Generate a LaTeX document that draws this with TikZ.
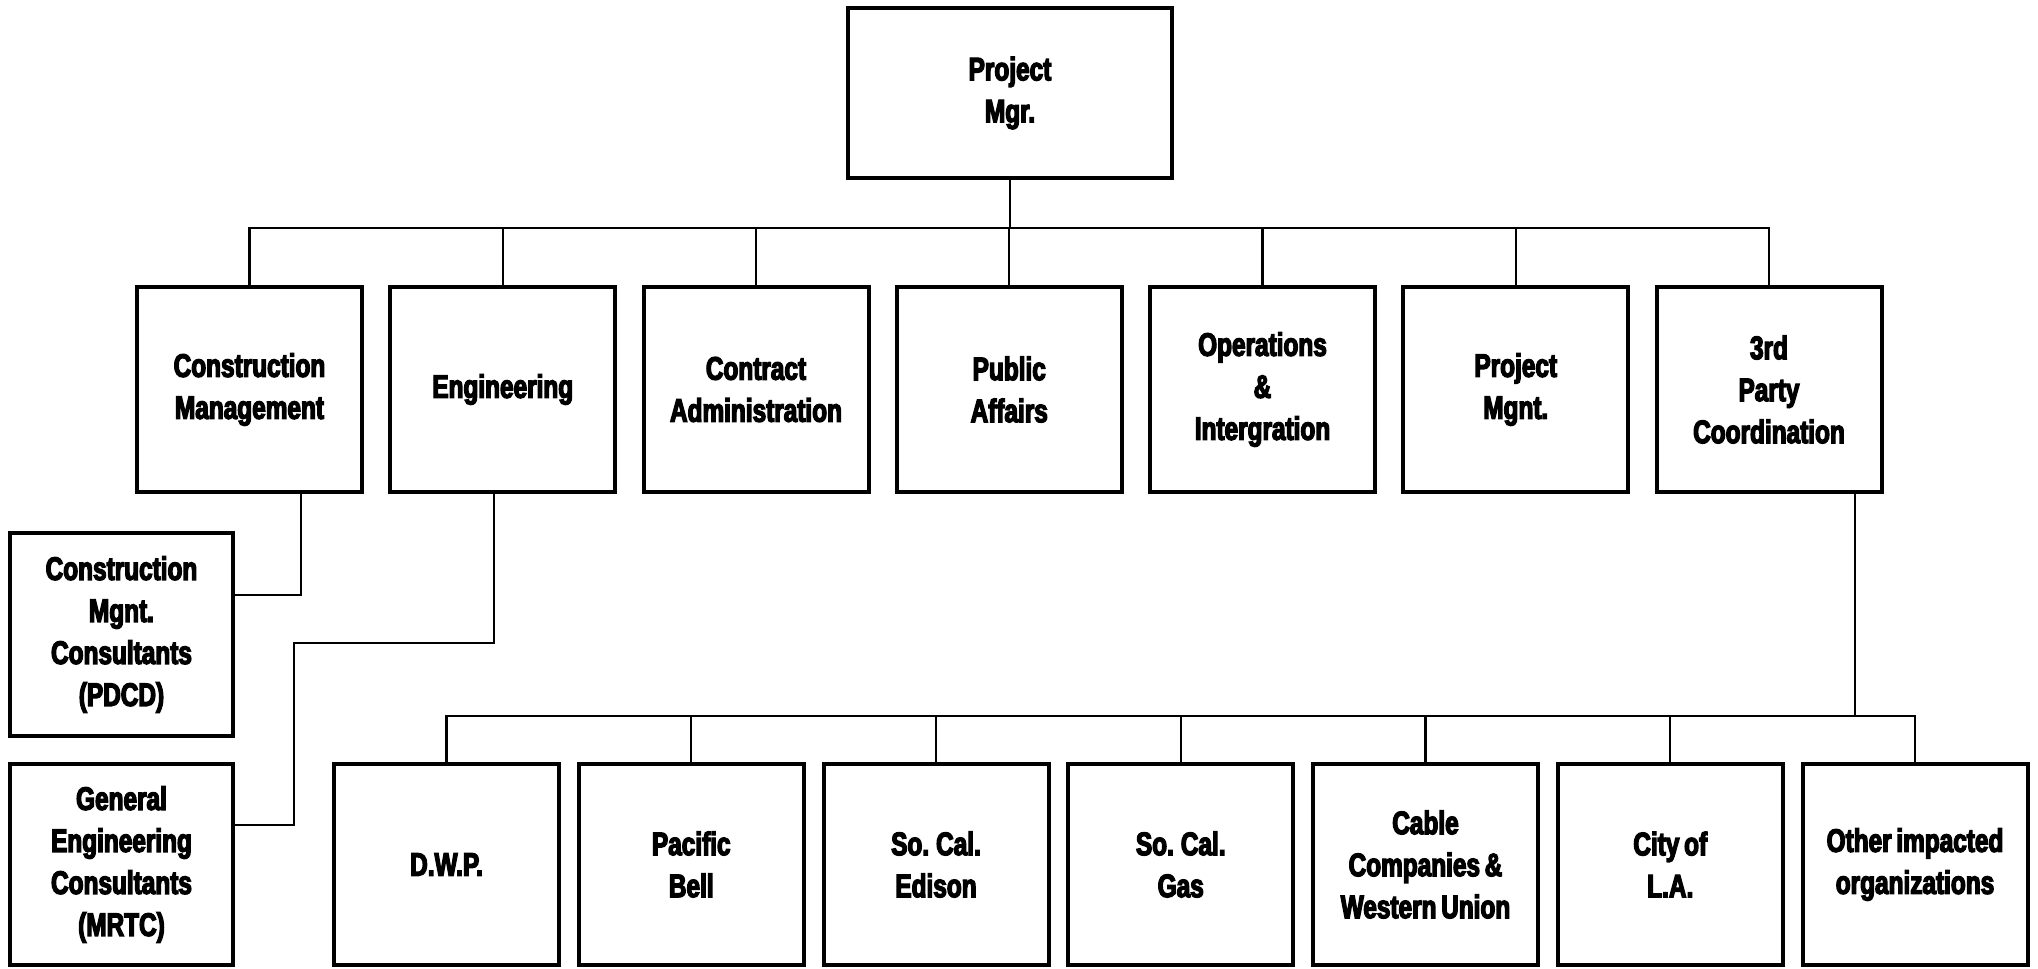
\documentclass[tikz,border=0pt]{standalone}
\usepackage{fontspec}
\newfontfamily\orgfont[FakeStretch=0.75,FakeBold=4,WordSpace=0.7]{Liberation Sans Bold}
\begin{document}
\begin{tikzpicture}[x=1pt, y=-1pt, node distance={253.25pt},
  main/.style = {draw, line width=4pt, minimum width=225pt, minimum height=205pt, inner sep=0pt, align=center, font=\orgfont\fontsize{32.5}{42}\selectfont},
  sub/.style = {main, minimum height=201pt},
  link/.style = {line width=2.4pt}]
\useasboundingbox (0,0) rectangle (2038,969);

\node[main, minimum width=324pt, minimum height=170pt] (1) at (1010,93) {Project\\Mgr.};
\node[main] (2) at (249.5,389.5) {Construction\\Management};
\node[main] (3) [right of=2] {Engineering};
\node[main] (4) [right of=3] {Contract\\Administration};
\node[main] (5) [right of=4] {Public\\Affairs};
\node[main] (6) [right of=5] {Operations\\\&\\Intergration};
\node[main] (7) [right of=6] {Project\\Mgnt.};
\node[main] (8) [right of=7] {3rd\\Party\\Coordination};

\node[sub, minimum width=223pt, minimum height=203pt] (9) at (121.5,634.5) {Construction\\Mgnt.\\Consultants\\(PDCD)};
\node[sub, minimum width=223pt] (10) at (121.5,864.5) {General\\Engineering\\Consultants\\(MRTC)};

\begin{scope}[node distance={244.75pt}]
\node[sub] (11) at (446.5,864.5) {D.W.P.};
\node[sub] (12) [right of=11] {Pacific\\Bell};
\node[sub] (13) [right of=12] {So. Cal.\\Edison};
\node[sub] (14) [right of=13] {So. Cal.\\Gas};
\node[sub] (15) [right of=14] {Cable\\Companies \&\\Western Union};
\node[sub] (16) [right of=15] {City of\\L.A.};
\node[sub] (17) [right of=16] {Other impacted\\organizations};
\end{scope}

\draw[link] (1.south) -- ++(0,48) coordinate (top);
\draw[link] (2.north) |- (top);
\draw[link] (3.north) |- (top);
\draw[link] (4.north) |- (top);
\draw[link] (5.north) |- (top);
\draw[link] (6.north) |- (top);
\draw[link] (7.north) |- (top);
\draw[link] (8.north) |- (top);

\draw[link] ([xshift=51.5pt]2.south) |- ([yshift=39.5pt]9.east);
\coordinate (bend) at (294,643);
\draw[link] ([xshift=-9pt]3.south) |- (bend) |- ([yshift=39.5pt]10.east);

\draw[link] ([xshift=86pt]8.south) -- ++(0,222) coordinate (low);
\draw[link] (11.north) |- (low);
\draw[link] (12.north) |- (low);
\draw[link] (13.north) |- (low);
\draw[link] (14.north) |- (low);
\draw[link] (15.north) |- (low);
\draw[link] (16.north) |- (low);
\draw[link] (17.north) |- (low);
\end{tikzpicture}
\end{document}
